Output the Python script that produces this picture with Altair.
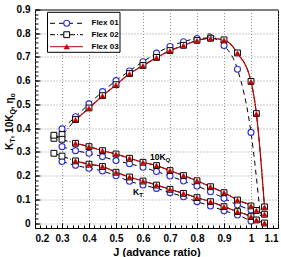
import altair as alt
import pandas as pd

# ---------------- data ----------------
J01 = [0.30, 0.35, 0.40, 0.45, 0.50, 0.55, 0.60, 0.65, 0.70, 0.75, 0.80, 0.85, 0.90, 0.95, 1.00]
ETA01 = [0.397, 0.448, 0.502, 0.554, 0.600, 0.641, 0.680, 0.716, 0.744, 0.764, 0.778, 0.780, 0.748, 0.648, 0.382]
KQ01 = [0.322, 0.305, 0.294, 0.280, 0.263, 0.250, 0.235, 0.217, 0.198, 0.177, 0.156, 0.132, 0.104, 0.076, 0.055]
KT01 = [0.259, 0.243, 0.231, 0.219, 0.199, 0.176, 0.160, 0.146, 0.128, 0.111, 0.090, 0.072, 0.052, 0.034, 0.008]
J01_TAIL = [1.035]
ETA01_TAIL = [0.03]

J02 = [0.27, 0.30, 0.35, 0.40, 0.45, 0.50, 0.55, 0.60, 0.65, 0.70, 0.75, 0.80, 0.85, 0.90, 0.95, 1.00, 1.02, 1.05]
ETA02 = [0.357, 0.373, 0.436, 0.485, 0.537, 0.583, 0.630, 0.664, 0.698, 0.727, 0.749, 0.770, 0.779, 0.772, 0.717, 0.597, 0.461, 0.068]
KQ02 = [0.370, 0.353, 0.336, 0.322, 0.305, 0.291, 0.273, 0.256, 0.242, 0.221, 0.200, 0.178, 0.153, 0.128, 0.097, 0.072, 0.053, 0.037]
KT02 = [0.294, 0.282, 0.262, 0.248, 0.238, 0.214, 0.194, 0.177, 0.160, 0.142, 0.125, 0.107, 0.090, 0.069, 0.048, 0.027, 0.013, 0.000]

J03 = [0.35, 0.40, 0.45, 0.50, 0.55, 0.60, 0.65, 0.70, 0.75, 0.80, 0.85, 0.90, 0.95, 1.00, 1.02, 1.05]
ETA03 = [0.435, 0.484, 0.536, 0.582, 0.629, 0.663, 0.697, 0.726, 0.748, 0.769, 0.778, 0.771, 0.716, 0.596, 0.460, 0.067]
KQ03 = [0.336, 0.322, 0.305, 0.291, 0.273, 0.256, 0.242, 0.221, 0.200, 0.178, 0.153, 0.128, 0.097, 0.072, 0.053, 0.037]
KT03 = [0.262, 0.248, 0.238, 0.214, 0.194, 0.177, 0.160, 0.142, 0.125, 0.107, 0.090, 0.069, 0.048, 0.027, 0.013, 0.000]

X_MAJOR = [0.2, 0.3, 0.4, 0.5, 0.6, 0.7, 0.8, 0.9, 1.0, 1.1]
Y_MAJOR = [0.0, 0.1, 0.2, 0.3, 0.4, 0.5, 0.6, 0.7, 0.8, 0.9]
X_MINOR = [round(0.2 + 0.02 * i, 2) for i in range(46)]
Y_MINOR = [round(0.02 * i, 2) for i in range(46)]

SERIES = ["Flex 01", "Flex 02", "Flex 03"]

FONT = "Liberation Sans"
BLUE = "#2f2fd6"
RED = "#c00000"
W, H = 243, 218.5


def table(series, J, eta, kq, kt):
    rows = []
    for name, vals in (("eta", eta), ("kq", kq), ("kt", kt)):
        for j, v in zip(J, vals):
            rows.append({"series": series, "curve": name, "J": j, "v": v})
    return rows


pts = pd.DataFrame(
    table("Flex 01", J01, ETA01, KQ01, KT01)
    + table("Flex 02", J02, ETA02, KQ02, KT02)
    + table("Flex 03", J03, ETA03, KQ03, KT03)
)
tail = pd.DataFrame([{"series": "Flex 01", "curve": "eta", "J": j, "v": v} for j, v in zip(J01_TAIL, ETA01_TAIL)])
lines = pd.concat([pts, tail], ignore_index=True)

xs = alt.Scale(domain=[0.2, 1.1], nice=False, zero=False)
ys = alt.Scale(domain=[-0.021, 0.9], nice=False, zero=False)

main_x_axis = alt.Axis(values=X_MAJOR, format="~g", grid=True, gridDash=[1, 2], gridColor="#777",
                       gridWidth=0.8, ticks=False, domain=False, labelPadding=5,
                       title="J (advance ratio)", titleFont=FONT, titleFontSize=11,
                       titleFontWeight="bold", titlePadding=3, titleColor="black")
main_y_axis = alt.Axis(values=Y_MAJOR, format="~g", grid=True, gridDash=[1, 2], gridColor="#777",
                       gridWidth=0.8, ticks=False, domain=False, labelPadding=5, title=None)


def tick_axis(orient, vals, size):
    return alt.Axis(orient=orient, values=vals, offset=-size, tickSize=size, tickColor="black",
                    tickWidth=1, labels=False, domain=False, grid=False, title=None)


def line_layer(s, color, dash, width, xa=None, ya=None):
    return alt.Chart(lines[lines.series == s]).mark_line(
        color=color, strokeDash=dash, strokeWidth=width, interpolate="monotone"
    ).encode(
        x=alt.X("J:Q", scale=xs, axis=xa),
        y=alt.Y("v:Q", scale=ys, axis=ya),
        detail="curve:N",
    )


def point_layer(s, mark, xa=None, ya=None):
    return alt.Chart(pts[pts.series == s]).mark_point(**mark).encode(
        x=alt.X("J:Q", scale=xs, axis=xa),
        y=alt.Y("v:Q", scale=ys, axis=ya),
    )


circle = dict(shape="circle", filled=True, fill="white", stroke=BLUE, strokeWidth=1.1, size=36, opacity=1)
square = dict(shape="square", filled=True, fill="white", stroke="black", strokeWidth=1, size=34, opacity=1)
tri = dict(shape="triangle-up", filled=True, fill=RED, stroke=RED, strokeWidth=0.5, size=28, opacity=1)

layers = [
    line_layer("Flex 01", "black", [5, 4], 1, main_x_axis, main_y_axis),
    line_layer("Flex 02", "black", [5, 2, 1, 2], 1),
    line_layer("Flex 03", RED, [1, 0], 1.2),
    point_layer("Flex 01", circle, tick_axis("bottom", X_MAJOR, 5), tick_axis("left", Y_MAJOR, 5)),
    point_layer("Flex 02", square, tick_axis("bottom", X_MINOR, 3), tick_axis("left", Y_MINOR, 3)),
    point_layer("Flex 03", tri),
]

one = pd.DataFrame({"k": [0]})


def txt_px(text, x, y, size, angle=0, weight="bold", color="black", align="left", baseline="alphabetic"):
    return alt.Chart(one).mark_text(
        text=text, font=FONT, fontSize=size, fontWeight=weight, color=color,
        angle=angle, align=align, baseline=baseline,
    ).encode(x=alt.value(x), y=alt.value(y))


def txt_data(text, j, v, size, weight="bold", color="black"):
    return alt.Chart(one).mark_text(
        text=text, font=FONT, fontSize=size, fontWeight=weight, color=color,
        align="left", baseline="middle",
    ).encode(x=alt.XDatum(j, scale=xs, axis=None), y=alt.YDatum(v, scale=ys, axis=None))


# curve annotations
layers += [
    txt_data("η", 0.838, 0.792, 9, weight="normal", color="#444"),
    txt_data("o", 0.857, 0.784, 6, weight="normal", color="#444"),
    txt_data("10K", 0.626, 0.278, 8.5),
    txt_data("Q", 0.683, 0.266, 6),
    txt_data("K", 0.563, 0.132, 8.5),
    txt_data("T", 0.586, 0.120, 6),
]

# y title pieces (rotated)
for text, x, y, size in [("K", -22, 140.5, 10), ("T", -20, 133.3, 7), (",", -22, 129, 10),
                         ("10K", -22, 123.4, 10), ("Q", -20, 105.1, 7), (",", -22, 99.7, 10),
                         ("η", -22, 94.1, 10), ("o", -20, 88, 7)]:
    layers.append(txt_px(text, x, y, size, angle=270))

# legend
layers.append(alt.Chart(one).mark_rect(fill="white", stroke="black", strokeWidth=1).encode(
    x=alt.value(12.5), x2=alt.value(85), y=alt.value(2.8), y2=alt.value(42.8)))
legend_rows = [(13.8, "black", [5, 4], circle), (25.2, "black", [5, 2, 1, 2], square), (37.2, RED, [1, 0], tri)]
for name, (ly, col, dash, mk) in zip(SERIES, legend_rows):
    layers.append(alt.Chart(one).mark_rule(color=col, strokeDash=dash, strokeWidth=1).encode(
        x=alt.value(15), x2=alt.value(48), y=alt.value(ly)))
    layers.append(alt.Chart(one).mark_point(**mk).encode(x=alt.value(31.7), y=alt.value(ly)))
    layers.append(txt_px(name, 56.5, ly, 8, baseline="middle"))

chart = alt.layer(*layers).resolve_axis(x="independent", y="independent").properties(
    width=W, height=H,
    autosize=alt.AutoSizeParams(type="none"),
    padding={"left": 35, "top": 9.5, "right": 3, "bottom": 29},
    background="white",
).configure_view(stroke="black", strokeWidth=1).configure_axis(
    labelFont=FONT, labelFontSize=10, labelFontWeight="bold", labelColor="black",
)

chart.save("out.html", embed_options={"renderer": "svg", "actions": False})
